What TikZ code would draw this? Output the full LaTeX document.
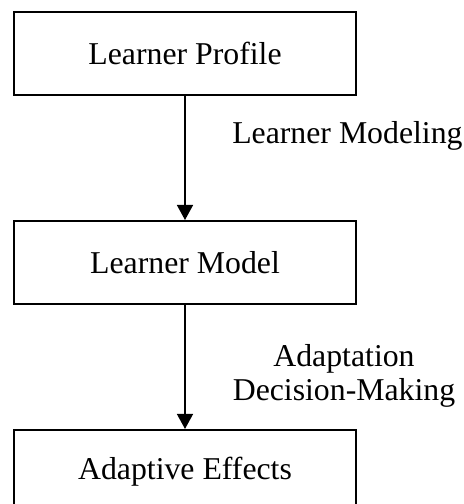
\documentclass[tikz,border=0pt]{standalone}
\usepackage{fontspec}
\setmainfont{Liberation Serif}
\usetikzlibrary{positioning,arrows.meta}
\tikzset{
    stagebox/.style={draw, line width=1.4pt, minimum width=8.55cm, minimum height=2.075cm, inner sep=0pt, font=\fontsize{22.6}{24.2}\selectfont},
    steplabel/.style={inner sep=0pt, align=center, font=\fontsize{22.6}{24.2}\selectfont},
    flow/.style={line width=1.05pt, -{Triangle[width=0.4cm,length=0.375cm]}}
}
\begin{document}
\begin{tikzpicture}
        \useasboundingbox (0,0) rectangle (11.6,-12.6);
        \node[stagebox] (profile) at (4.625,-1.3375) {Learner Profile};
        \node[stagebox, below=3.1cm of profile] (model) {Learner Model};
        \node[stagebox, below=3.1cm of model] (effects) {Adaptive Effects};
        \draw[flow] (profile) -- (model);
        \draw[flow] (model) -- (effects);
        \node[steplabel, anchor=base west] (modeling) at (5.8,-3.575) {Learner Modeling};
        \node[steplabel] (decision) at (8.6,-9.4) {Adaptation\\Decision-Making};
    \end{tikzpicture}
\end{document}
